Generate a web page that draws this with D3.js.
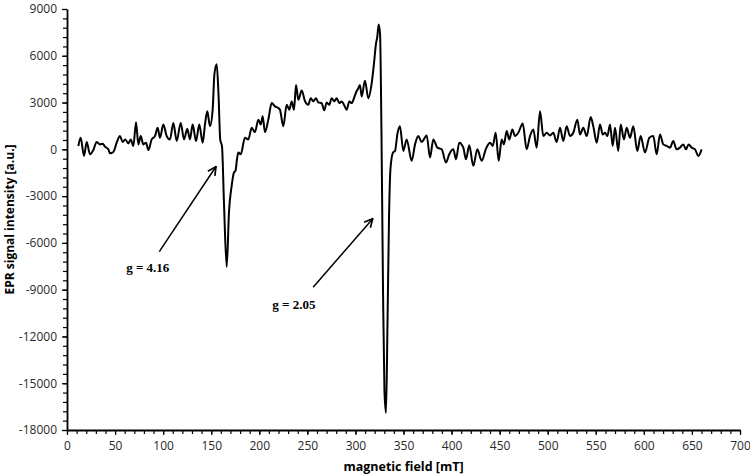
<!DOCTYPE html>
<html>
<head>
<meta charset="utf-8">
<script src="https://cdn.jsdelivr.net/npm/d3@7"></script>
<style>
  body { margin: 0; background: #fff; }
  svg { display: block; }
</style>
</head>
<body>
<div id="chart"></div>
<script>
// EPR spectrum, values
var field = [
  11.8, 14.2, 17.7, 20.5, 23.9, 27.4, 30.9, 34.3, 37.1, 39.5, 43.0, 44.7, 48.2, 51.7, 55.1, 57.9, 60.6, 63.8, 66.3, 69.0,
  71.8, 74.2, 76.7, 79.4, 82.2, 84.6, 88.1, 91.5, 94.3, 96.7, 100.2, 103.7, 107.1, 110.6, 114.1, 118.3, 121.7, 125.1, 127.9, 130.7,
  134.2, 137.6, 141.1, 143.5, 145.9, 148.7, 151.5, 153.3, 155.7, 157.6, 159.4, 161.2, 163.3, 166.1, 168.5, 171.3, 173.7, 175.3, 176.8, 178.2,
  180.7, 185.1, 188.6, 192.1, 195.5, 199.0, 201.5, 203.5, 205.9, 209.4, 212.9, 216.3, 219.8, 221.5, 225.0, 228.5, 231.2, 233.7, 236.1, 238.2,
  240.6, 244.1, 247.6, 251.0, 253.5, 256.2, 259.0, 261.4, 264.9, 267.6, 270.1, 272.8, 275.3, 278.0, 280.5, 283.2, 285.7, 288.1, 290.9, 293.6,
  296.1, 298.5, 300.6, 303.0, 304.7, 306.5, 309.9, 313.4, 316.9, 319.3, 321.4, 322.7, 324.2, 325.6, 327.1, 328.7, 330.2, 331.8, 333.4, 334.9,
  336.5, 339.1, 341.2, 343.7, 346.3, 349.8, 353.3, 358.5, 362.0, 365.4, 368.9, 374.1, 377.6, 381.0, 385.2, 389.7, 394.2, 397.6, 401.8, 404.6,
  408.0, 412.2, 415.0, 418.4, 422.6, 426.8, 431.3, 435.8, 440.0, 442.8, 445.9, 449.0, 452.1, 454.5, 457.3, 460.0, 463.2, 466.0, 469.4, 474.0,
  478.1, 481.6, 485.0, 488.5, 492.0, 495.4, 498.9, 502.4, 505.8, 509.3, 512.8, 516.2, 519.7, 523.2, 526.6, 530.8, 533.6, 537.0, 540.6, 544.7,
  547.4, 551.0, 554.4, 557.2, 559.6, 562.0, 564.8, 567.6, 570.0, 573.4, 575.9, 579.3, 582.1, 585.6, 589.0, 593.2, 596.7, 601.2, 605.7, 609.8,
  613.3, 616.8, 620.2, 623.7, 627.2, 630.6, 634.1, 637.6, 641.0, 643.8, 646.6, 649.7, 653.2, 656.6, 660.1
];
var intensity = [
  216, 743, -420, 470, -317, -40, 470, 318, 360, 170, 0, -254, -165, 425, 850, 470, 635, 381, 635, 216,
  1740, 318, 850, 318, 425, -40, 635, 850, 1380, 743, 1590, 850, 635, 1695, 533, 1695, 635, 1315, 635, 1590,
  533, 1590, 425, 1590, 2440, 1485, 2540, 4800, 5450, 3500, 600, 200, -3500, -7550, -4000, -2325, -1480, -1370, -635, -210,
  -317, 743, 635, 1380, 1105, 1905, 1590, 2120, 1105, 1905, 2965, 2755, 2650, 2540, 1485, 2860, 2540, 3075, 2540, 4130,
  3175, 3770, 3075, 2860, 3280, 3075, 3280, 3010, 2965, 2500, 3010, 2860, 3280, 3075, 3280, 2965, 3075, 2860, 2540, 3075,
  2965, 3280, 3645, 3920, 4130, 3390, 4400, 3280, 4235, 5505, 6775, 7200, 8000, 7410, 1000, -9000, -15500, -16900, -11000, -4500,
  -1200, -200, -100, 1000, 1485, -100, 635, -740, 318, 850, 470, 890, -527, 635, 108, 0, -845, -317, 0, -635,
  425, 108, -635, 254, -1055, 0, -740, 45, 425, 216, 1060, -740, 635, 318, 1170, 635, 1270, 850, 1060, 1650,
  0, 850, 1270, 108, 2440, 850, 1060, 890, 1060, 470, 1380, 533, 1485, 850, 1060, 1905, 950, 1380, 850, 2075,
  1485, 425, 1590, 950, 1060, 850, 1590, 216, 1380, -100, 1590, 635, 1380, 743, 1485, -100, 850, -210, 743, 850,
  -317, 950, 318, 216, 108, 533, 0, 108, 318, 0, 318, 108, 0, -420, 0
];

var xTicks = [0, 50, 100, 150, 200, 250, 300, 350, 400, 450, 500, 550, 600, 650, 700];
var yTicks = [9000, 6000, 3000, 0, -3000, -6000, -9000, -12000, -15000, -18000];

// annotation labels with arrow start/end in data units
var notes = [
  { label: "g = 4.16", tx: 84, ty: -7850, x1: 96, y1: -6560, x2: 155, y2: -1100 },
  { label: "g = 2.05", tx: 236, ty: -10250, x1: 256, y1: -8845, x2: 318, y2: -4445 }
];

var width = 750, height = 475;
var margin = { top: 9, right: 10, bottom: 45, left: 67 };

var svg = d3.select("#chart")
  .append("svg")
  .attr("width", width)
  .attr("height", height);

var x = d3.scaleLinear().domain([0, 700]).range([margin.left, width - margin.right]);
var y = d3.scaleLinear().domain([-18000, 9000]).range([height - margin.bottom, margin.top]);

var data = field.map(function(f, i) { return { x: f, y: intensity[i] }; });

// plain numbers, ascii minus, no thousands separator
var plain = function(d) { return String(d); };

// minor ticks first so major ticks sit on top
svg.append("g")
  .attr("transform", "translate(0," + y(-18000) + ")")
  .call(d3.axisBottom(x).tickValues(d3.range(0, 701, 10)).tickSize(4).tickFormat(""))
  .call(function(g) { g.select(".domain").remove(); })
  .selectAll("line").attr("stroke", "#000").attr("stroke-width", 1.2);

svg.append("g")
  .attr("transform", "translate(" + x(0) + ",0)")
  .call(d3.axisLeft(y).tickValues(d3.range(-18000, 9001, 600)).tickSize(4).tickFormat(""))
  .call(function(g) { g.select(".domain").remove(); })
  .selectAll("line").attr("stroke", "#000").attr("stroke-width", 1.2);

var xAxis = svg.append("g")
  .attr("transform", "translate(0," + y(-18000) + ")")
  .call(d3.axisBottom(x).tickValues(xTicks).tickFormat(plain).tickSize(5).tickSizeOuter(0).tickPadding(6));

var yAxis = svg.append("g")
  .attr("transform", "translate(" + x(0) + ",0)")
  .call(d3.axisLeft(y).tickValues(yTicks).tickFormat(plain).tickSize(5).tickSizeOuter(0).tickPadding(5));

[xAxis, yAxis].forEach(function(a) {
  a.select(".domain").attr("stroke", "#000").attr("stroke-width", 1.8);
  a.selectAll(".tick line").attr("stroke", "#000").attr("stroke-width", 1.2);
  a.selectAll("text")
    .attr("font-family", "'Open Sans', sans-serif")
    .attr("font-size", "12px")
    .attr("fill", "#2a2a2a");
});

// spectrum
var line = d3.line()
  .x(function(d) { return x(d.x); })
  .y(function(d) { return y(d.y); })
  .curve(d3.curveMonotoneX);

svg.append("path")
  .datum(data)
  .attr("fill", "none")
  .attr("stroke", "#000")
  .attr("stroke-width", 2)
  .attr("stroke-linejoin", "round")
  .attr("d", line);

// arrows
svg.append("defs").append("marker")
  .attr("id", "head")
  .attr("viewBox", "0 0 10 10")
  .attr("refX", 9)
  .attr("refY", 5)
  .attr("markerWidth", 7)
  .attr("markerHeight", 7)
  .attr("orient", "auto")
  .append("path")
  .attr("d", "M1,1 L9,5 L1,9")
  .attr("fill", "none")
  .attr("stroke", "#000")
  .attr("stroke-width", 1.6);

svg.selectAll(".arrow")
  .data(notes)
  .enter()
  .append("line")
  .attr("class", "arrow")
  .attr("x1", function(d) { return x(d.x1); })
  .attr("y1", function(d) { return y(d.y1); })
  .attr("x2", function(d) { return x(d.x2); })
  .attr("y2", function(d) { return y(d.y2); })
  .attr("stroke", "#000")
  .attr("stroke-width", 1.5)
  .attr("marker-end", "url(#head)");

svg.selectAll(".note")
  .data(notes)
  .enter()
  .append("text")
  .attr("class", "note")
  .attr("x", function(d) { return x(d.tx); })
  .attr("y", function(d) { return y(d.ty); })
  .attr("text-anchor", "middle")
  .attr("font-family", "'Liberation Serif', 'DejaVu Serif', serif")
  .attr("font-weight", "bold")
  .attr("font-size", "13px")
  .text(function(d) { return d.label; });

// axis titles
svg.append("text")
  .attr("x", (x(0) + x(700)) / 2)
  .attr("y", 471)
  .attr("text-anchor", "middle")
  .attr("font-family", "'Open Sans', sans-serif")
  .attr("font-weight", "bold")
  .attr("font-size", "12.5px")
  .text("magnetic field [mT]");

svg.append("text")
  .attr("transform", "translate(14," + (y(-18000) + y(9000)) / 2 + ") rotate(-90)")
  .attr("text-anchor", "middle")
  .attr("font-family", "'Open Sans', sans-serif")
  .attr("font-weight", "bold")
  .attr("font-size", "12px")
  .text("EPR signal intensity [a.u.]");
</script>
</body>
</html>
